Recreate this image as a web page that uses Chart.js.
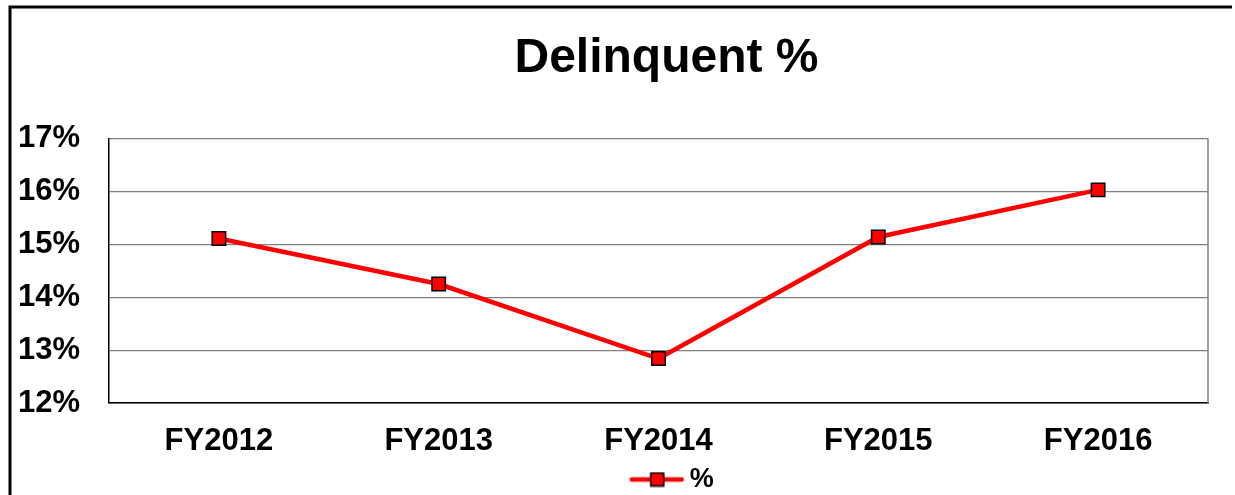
<!DOCTYPE html>
<html>
<head>
<meta charset="utf-8">
<script src="https://cdn.jsdelivr.net/npm/chart.js@4.4.0/dist/chart.umd.min.js"></script>
<style>
  body { margin: 0; background: #fff; }
  canvas { display: block; }
</style>
</head>
<body>
<canvas id="chart" width="1235" height="495"></canvas>
<script>
// values
const categories = ['FY2012', 'FY2013', 'FY2014', 'FY2015', 'FY2016'];
const delinquentPct = [15.11, 14.25, 12.84, 15.14, 16.03];
const yTicks = [12, 13, 14, 15, 16, 17];

const FONT = "'Liberation Sans', Arial, sans-serif";

// legend symbol: red line with a square marker
const legendIcon = document.createElement('canvas');
legendIcon.width = 56;
legendIcon.height = 16;
(function () {
  const c = legendIcon.getContext('2d');
  c.strokeStyle = '#ff0000';
  c.lineWidth = 4.5;
  c.lineCap = 'round';
  c.beginPath();
  c.moveTo(3, 8);
  c.lineTo(53, 8);
  c.stroke();
  c.fillStyle = '#ff0000';
  c.strokeStyle = '#000';
  c.lineWidth = 1.5;
  c.fillRect(22, 1.5, 13, 13);
  c.strokeRect(22, 1.5, 13, 13);
})();

const framePlugin = {
  id: 'frame',
  afterLayout(chart) {
    // title and legend sit a little right of the plot centre in the original
    chart.titleBlock.left += 8;
    chart.titleBlock.right += 8;
    chart.legend.left += 17;
    chart.legend.right += 17;
    chart.legend.top += 8;
    chart.legend.bottom += 8;
  },
  beforeDraw(chart) {
    const ctx = chart.ctx;
    ctx.save();
    ctx.fillStyle = '#fff';
    ctx.fillRect(0, 0, chart.width, chart.height);
    ctx.strokeStyle = '#000';
    ctx.lineWidth = 3;
    ctx.beginPath();
    ctx.moveTo(10, chart.height);
    ctx.lineTo(10, 7);
    ctx.lineTo(1232, 7);
    ctx.stroke();
    ctx.restore();
  },
  afterDraw(chart) {
    const a = chart.chartArea;
    const ctx = chart.ctx;
    ctx.save();
    ctx.strokeStyle = '#808080';
    ctx.lineWidth = 1.5;
    ctx.beginPath();
    ctx.moveTo(a.right, a.top);
    ctx.lineTo(a.right, a.bottom);
    ctx.stroke();
    ctx.restore();
  }
};

new Chart(document.getElementById('chart'), {
  type: 'line',
  data: {
    labels: categories,
    datasets: [{
      label: '%',
      data: delinquentPct,
      borderColor: '#ff0000',
      borderWidth: 4.5,
      backgroundColor: '#ff0000',
      pointStyle: 'rect',
      pointRadius: 9.5,
      pointHoverRadius: 9.5,
      pointBorderColor: '#000',
      pointBorderWidth: 1.5,
      pointBackgroundColor: '#ff0000',
      tension: 0
    }]
  },
  options: {
    responsive: false,
    devicePixelRatio: 1,
    animation: false,
    layout: { padding: { left: 0, right: 27, top: 0, bottom: 0 } },
    plugins: {
      title: {
        display: true,
        fullSize: false,
        text: 'Delinquent %',
        color: '#000',
        font: { family: FONT, size: 48, weight: 'bold' },
        padding: { top: 30, bottom: 51 }
      },
      legend: {
        position: 'bottom',
        fullSize: false,
        labels: {
          usePointStyle: true,
          pointStyle: legendIcon,
          pointStyleWidth: 39,
          color: '#000',
          padding: 0,
          font: { family: FONT, size: 27, weight: 'bold' },
          generateLabels(chart) {
            return [{
              text: '%',
              pointStyle: legendIcon,
              fillStyle: '#ff0000',
              strokeStyle: '#000',
              lineWidth: 0,
              datasetIndex: 0
            }];
          }
        }
      },
      tooltip: { enabled: false }
    },
    scales: {
      x: {
        offset: true,
        afterFit(scale) { scale.height = 55; },
        grid: { display: false, drawTicks: false },
        border: { display: true, color: '#000', width: 1.5 },
        ticks: {
          color: '#000',
          padding: 21,
          maxRotation: 0,
          font: { family: FONT, size: 31, weight: 'bold', lineHeight: 1.1 }
        }
      },
      y: {
        min: 12,
        max: 17,
        afterFit(scale) { scale.width = 109; },
        afterBuildTicks(scale) { scale.ticks = yTicks.map(v => ({ value: v })); },
        grid: { color: '#808080', lineWidth: 1.2, drawTicks: false },
        border: { display: true, color: '#000', width: 1.5 },
        ticks: {
          color: '#000',
          padding: 29,
          callback: v => v + '%',
          font: { family: FONT, size: 31, weight: 'bold' }
        }
      }
    }
  },
  plugins: [framePlugin]
});
</script>
</body>
</html>
